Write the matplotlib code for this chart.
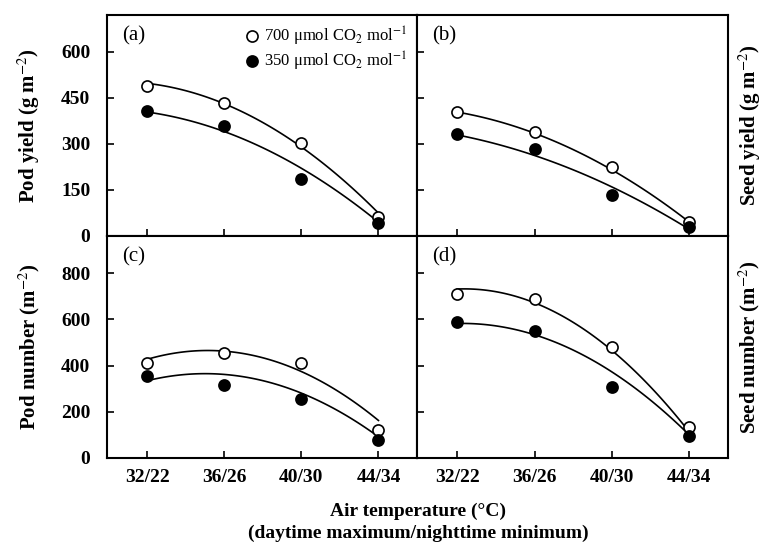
import matplotlib
matplotlib.use('Agg')
import matplotlib.pyplot as plt
import numpy as np

plt.rcParams['font.family'] = ['Liberation Serif', 'DejaVu Serif']
plt.rcParams['mathtext.fontset'] = 'stix'

# data
temps = ['32/22', '36/26', '40/30', '44/34']
pod_yield_700 = [489, 433, 303, 62]
pod_yield_350 = [407, 357, 186, 42]
seed_yield_700 = [404, 339, 225, 46]
seed_yield_350 = [332, 284, 134, 29]
pod_num_700 = [409, 455, 412, 121]
pod_num_350 = [354, 315, 254, 78]
seed_num_700 = [709, 686, 481, 135]
seed_num_350 = [587, 549, 308, 95]

# fitted curve values at each temperature
pod_yield_fit_700 = [496, 435, 286, 76]
pod_yield_fit_350 = [402, 346, 215, 47]
seed_yield_fit_700 = [402, 340, 210, 47]
seed_yield_fit_350 = [326, 272, 150, 25]
pod_num_fit_700 = [428, 458, 378, 161]
pod_num_fit_350 = [334, 362, 280, 92]
seed_num_fit_700 = [729, 676, 460, 114]
seed_num_fit_350 = [582, 532, 373, 99]

x = np.arange(len(temps))
xs = np.linspace(0, 3, 100)

fig = plt.figure(figsize=(7.64, 5.44), dpi=100)
L, M, R = 107 / 764, 417 / 764, 728 / 764
T, C, B = 1 - 15 / 544, 1 - 236 / 544, 1 - 458 / 544
ax_a = fig.add_axes([L, C, M - L, T - C])
ax_b = fig.add_axes([M, C, R - M, T - C])
ax_c = fig.add_axes([L, B, M - L, C - B])
ax_d = fig.add_axes([M, B, R - M, C - B])

panels = [
    (ax_a, pod_yield_700, pod_yield_350, pod_yield_fit_700, pod_yield_fit_350, '(a)',
     'Pod yield (g m$^{-2}$)', (0, 720), [0, 150, 300, 450, 600]),
    (ax_b, seed_yield_700, seed_yield_350, seed_yield_fit_700, seed_yield_fit_350, '(b)',
     'Seed yield (g m$^{-2}$)', (0, 720), [0, 150, 300, 450, 600]),
    (ax_c, pod_num_700, pod_num_350, pod_num_fit_700, pod_num_fit_350, '(c)',
     'Pod number (m$^{-2}$)', (0, 960), [0, 200, 400, 600, 800]),
    (ax_d, seed_num_700, seed_num_350, seed_num_fit_700, seed_num_fit_350, '(d)',
     'Seed number (m$^{-2}$)', (0, 960), [0, 200, 400, 600, 800]),
]

for ax, hi, lo, fhi, flo, tag, ylab, ylim, yt in panels:
    for vals, fit, fc, lab in [(hi, fhi, 'white', '700 \u03bcmol CO$_2$ mol$^{-1}$'),
                               (lo, flo, 'black', '350 \u03bcmol CO$_2$ mol$^{-1}$')]:
        coef = np.polyfit(x, fit, 2)
        ax.plot(xs, np.polyval(coef, xs), color='black', lw=1.2, zorder=2)
        ax.plot(x, vals, 'o', ms=8, mfc=fc, mec='black', mew=1.2, zorder=3,
                label=lab, clip_on=False)
    ax.set_xlim(-0.52, 3.5)
    ax.set_ylim(*ylim)
    ax.set_yticks(yt)
    ax.set_xticks(x)
    ax.tick_params(direction='in', length=5, width=1.2, labelsize=14)
    ax.tick_params(axis='y', pad=12)
    ax.tick_params(axis='x', pad=8)
    for s in ax.spines.values():
        s.set_linewidth(1.5)
    ax.text(0.05, 0.95, tag, transform=ax.transAxes, fontsize=15, va='top')
    for t in ax.get_xticklabels() + ax.get_yticklabels():
        t.set_fontweight('bold')
    ax.set_ylabel(ylab, fontsize=15, fontweight='bold')

for ax in (ax_a, ax_b):
    ax.set_xticklabels([])
ax_c.set_xticklabels(temps)
ax_d.set_xticklabels(temps)
for t in ax_c.get_xticklabels() + ax_d.get_xticklabels():
    t.set_fontweight('bold')
for ax in (ax_b, ax_d):
    ax.set_yticklabels([])
    ax.yaxis.set_label_position('right')
    ax.set_ylabel(ax.get_ylabel(), fontsize=15, fontweight='bold', labelpad=6)
for ax in (ax_a, ax_c):
    ax.yaxis.labelpad = 14

ax_a.legend(loc='upper right', frameon=False, fontsize=12, handletextpad=0.0,
            borderaxespad=0.2, labelspacing=0.1, handlelength=1.4)

fig.text(0.547, 1 - 511 / 544, 'Air temperature (\u00b0C)', ha='center', va='center',
         fontsize=14, fontweight='bold')
fig.text(0.547, 1 - 533 / 544, '(daytime maximum/nighttime minimum)', ha='center',
         va='center', fontsize=14, fontweight='bold')

fig.savefig('out.png', dpi=100)
